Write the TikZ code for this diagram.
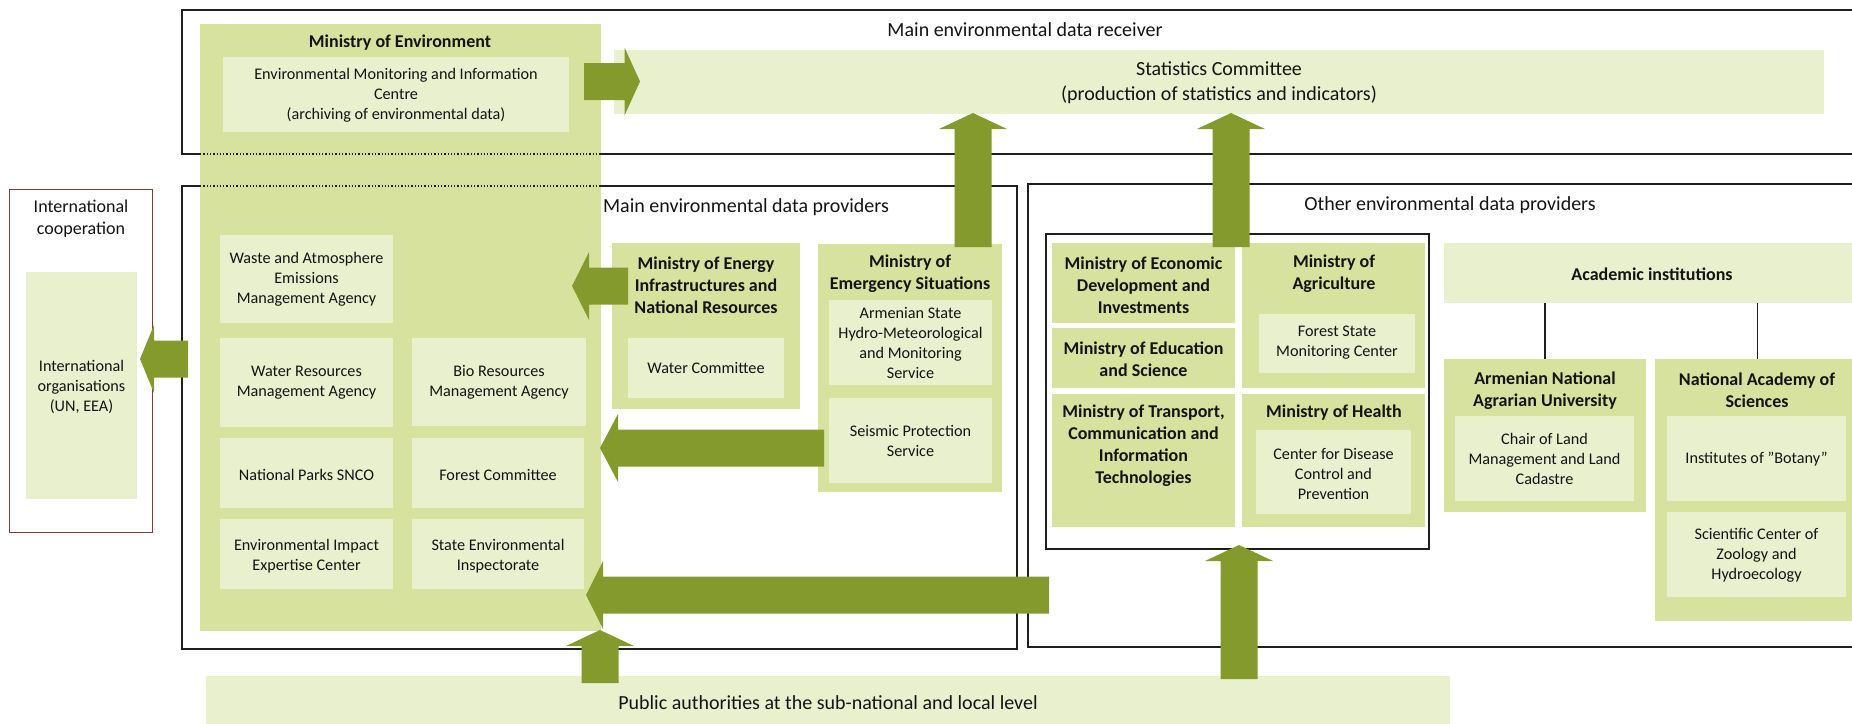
\documentclass[tikz,border=0pt]{standalone}
\usepackage{fontspec}
\setmainfont{Carlito}
\definecolor{dkg}{HTML}{D6E29E}
\definecolor{ltg}{HTML}{E9F0CD}
\definecolor{arrg}{HTML}{849A2D}
\definecolor{frm}{HTML}{1E1E1E}
\definecolor{redfrm}{HTML}{7F3A3A}
\definecolor{txtc}{HTML}{141414}
\tikzset{
  boxbase/.style={inner sep=0pt, outer sep=0pt, anchor=north west},
  dk/.style={boxbase, fill=dkg, draw=none},
  lt/.style={boxbase, fill=ltg, draw=none},
  frame/.style={boxbase, draw=frm, line width=1.3pt, fill=none},
  intlframe/.style={boxbase, draw=redfrm, line width=0.9pt, fill=none},
  dotline/.style={draw=frm, line width=1.3pt, dotted},
  conn/.style={draw=frm, line width=1.2pt},
  txt/.style={align=center, inner sep=0pt, text=txtc, font=\fontsize{16.2}{20}\selectfont},
  ttl/.style={align=center, inner sep=0pt, text=txtc, font=\fontsize{18}{22}\selectfont\bfseries},
  mid/.style={align=center, inner sep=0pt, text=txtc, font=\fontsize{18}{22}\selectfont},
  big/.style={align=center, inner sep=0pt, text=txtc, font=\fontsize{20}{25}\selectfont},
  arr/.style={fill=arrg, draw=none}
}
% box: style, x1, y1, x2, y2, name
\newcommand\bx[6]{\node[#1, minimum width={#4-#2}, minimum height={#5-#3}] (#6) at (#2,#3) {};}
% right arrow: tail x, base x, tip x, centre y
\newcommand\rarr[4]{\fill[arr] (#1,#4-18.5) -- (#2,#4-18.5) -- (#2,#4-34) -- (#3,#4) -- (#2,#4+34) -- (#2,#4+18.5) -- (#1,#4+18.5) -- cycle;}
% left arrow: tail x, base x, tip x, centre y
\newcommand\larr[4]{\fill[arr] (#1,#4-18.5) -- (#2,#4-18.5) -- (#2,#4-34) -- (#3,#4) -- (#2,#4+34) -- (#2,#4+18.5) -- (#1,#4+18.5) -- cycle;}
% up arrow: tail y, base y, tip y, centre x
\newcommand\uarr[4]{\fill[arr] (#4-18.5,#1) -- (#4-18.5,#2) -- (#4-34,#2) -- (#4,#3) -- (#4+34,#2) -- (#4+18.5,#2) -- (#4+18.5,#1) -- cycle;}
\begin{document}
\begin{tikzpicture}[x=1pt,y=-1pt]
\useasboundingbox (0,0) rectangle (1852,723);
% frames
\bx{frame}{182}{10}{1875}{154}{recv}
\bx{frame}{182}{186}{1017}{649}{prov}
\bx{frame}{1028}{184}{1875}{647}{other}
\bx{frame}{1046}{234}{1429}{549}{grp}
\bx{intlframe}{9.5}{189}{152}{532}{coop}
% receiver
\bx{lt}{614}{50}{1824}{114}{stats}
% ministry of environment
\bx{dk}{200}{24}{601}{631}{moe}
\bx{lt}{223}{57}{569}{132}{emic}
\draw[dotline] (moe.west |- recv.south) -- (moe.east |- recv.south);
\draw[dotline] (moe.west |- prov.north) -- (moe.east |- prov.north);
\bx{lt}{220}{235}{393}{323}{waste}
\bx{lt}{220}{338}{393}{427}{water}
\bx{lt}{412}{338}{586}{426}{bio}
\bx{lt}{220}{438}{393}{508}{parks}
\bx{lt}{412}{438}{584}{508}{forest}
\bx{lt}{220}{519}{393}{589}{eia}
\bx{lt}{412}{519}{584}{589}{insp}
% international
\bx{lt}{26}{272}{137}{499}{intorg}
% other main providers
\bx{dk}{612}{243}{800}{409}{energy}
\bx{lt}{628}{338}{784}{398}{watcom}
\bx{dk}{818}{244}{1002}{492}{emerg}
\bx{lt}{829}{300}{992}{385}{hydro}
\bx{lt}{829}{398}{992}{483}{seis}
% other providers
\bx{dk}{1052}{243}{1235}{323}{econ}
\bx{dk}{1052}{328}{1235}{388}{edu}
\bx{dk}{1052}{394}{1235}{527}{trans}
\bx{dk}{1242}{243}{1425}{388}{agri}
\bx{lt}{1259}{314}{1415}{373}{fsmc}
\bx{dk}{1242}{394}{1425}{527}{health}
\bx{lt}{1256}{430}{1411}{514}{cdc}
\bx{lt}{1444}{243}{1875}{303}{acad}
\bx{dk}{1444}{359}{1646}{512}{agr}
\bx{lt}{1455}{416}{1634}{501}{chair}
\bx{dk}{1655}{359}{1860}{621}{nas}
\bx{lt}{1667}{416}{1846}{501}{bot}
\bx{lt}{1667}{512}{1846}{597}{sci}
\bx{lt}{206}{676}{1450}{740}{pub}
% connectors
\draw[conn] (agr.north |- acad.south) -- (agr.north);
\draw[conn] (nas.north |- acad.south) -- (nas.north);
% texts
\node[big] (recvt) at (1025,30) {Main environmental data receiver};
\node[big] (statst) at (1219,82.5) {Statistics Committee\\(production of statistics and indicators)};
\node[ttl] (moet) at (400,43) {Ministry of Environment};
\node[txt] (emict) at (396,95) {Environmental Monitoring and Information\\Centre\\(archiving of environmental data)};
\node[big] (provt) at (746,207) {Main environmental data providers};
\node[big] (othert) at (1450,205) {Other environmental data providers};
\node[mid] (coopt) at (81,219) {International\\cooperation};
\node[txt] (intorgt) at (81.5,387) {International\\organisations\\(UN, EEA)};
\node[txt] (wastet) at (306.5,279.5) {Waste and Atmosphere\\Emissions\\Management Agency};
\node[txt] (watert) at (306.5,383) {Water Resources\\Management Agency};
\node[txt] (biot) at (499,382.5) {Bio Resources\\Management Agency};
\node[txt] (parkst) at (306.5,475) {National Parks SNCO};
\node[txt] (forestt) at (498,475) {Forest Committee};
\node[txt] (eiat) at (306.5,556) {Environmental Impact\\Expertise Center};
\node[txt] (inspt) at (498,556) {State Environmental\\Inspectorate};
\node[ttl] (energyt) at (706,285) {Ministry of Energy\\Infrastructures and\\National Resources};
\node[txt] (watcomt) at (706,368) {Water Committee};
\node[ttl] (emergt) at (910,274) {Ministry of\\Emergency Situations};
\node[txt] (hydrot) at (910.5,342.5) {Armenian State\\Hydro-Meteorological\\and Monitoring\\Service};
\node[txt] (seist) at (910.5,441) {Seismic Protection\\Service};
\node[ttl] (econt) at (1143.5,285) {Ministry of Economic\\Development and\\Investments};
\node[ttl] (edut) at (1143.5,359) {Ministry of Education\\and Science};
\node[ttl] (transt) at (1143.5,446) {Ministry of Transport,\\Communication and\\Information\\Technologies};
\node[ttl] (agrit) at (1334,274) {Ministry of\\Agriculture};
\node[txt] (fsmct) at (1337,343) {Forest State\\Monitoring Center};
\node[ttl] (healtht) at (1334,413) {Ministry of Health};
\node[txt] (cdct) at (1333.5,473.5) {Center for Disease\\Control and\\Prevention};
\node[ttl] (acadt) at (1652,274) {Academic institutions};
\node[ttl] (agrt) at (1545,390.5) {Armenian National\\Agrarian University};
\node[txt] (chairt) at (1544.5,459) {Chair of Land\\Management and Land\\Cadastre};
\node[ttl] (nast) at (1757,390.5) {National Academy of\\Sciences};
\node[txt] (bott) at (1756.5,459) {Institutes of "Botany"};
\node[txt] (scit) at (1756.5,555.5) {Scientific Center of\\Zoology and\\Hydroecology};
\node[big] (pubt) at (828,703) {Public authorities at the sub-national and local level};
% block arrows
\rarr{584}{624.5}{640}{81.5}
\larr{188}{154}{140}{359}
\larr{628}{589}{572}{286}
\larr{824}{618}{600}{448}
\larr{1049}{603}{586}{595}
\uarr{683}{646}{630}{600}
\uarr{679}{561}{545}{1239}
\uarr{247}{129}{113}{973}
\uarr{247}{129}{113}{1231}
\end{tikzpicture}
\end{document}
